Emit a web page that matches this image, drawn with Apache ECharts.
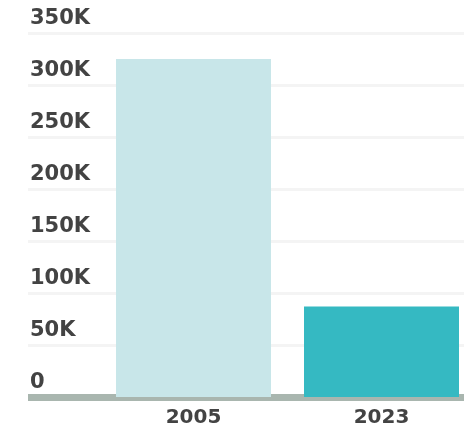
<!DOCTYPE html>
<html>
<head>
<meta charset="utf-8">
<script src="https://cdn.jsdelivr.net/npm/echarts@6/dist/echarts.min.js"></script>
<style>
html,body{margin:0;padding:0;background:#fff;}
#c{width:464px;height:430px;}
</style>
</head>
<body>
<div id="c"></div>
<script>
var categories = ['2005', '2023'];
var values = [325000, 87000];
var barColors = ['#c8e6e9', '#35b9c2'];
var yTickLabels = { 0: '0', 50000: '50K', 100000: '100K', 150000: '150K', 200000: '200K', 250000: '250K', 300000: '300K', 350000: '350K' };

var labelFont = { fontFamily: 'DejaVu Sans', fontWeight: 'bold', color: '#434343' };

var chart = echarts.init(document.getElementById('c'), null, { renderer: 'canvas' });
chart.setOption({
  animation: false,
  grid: [
    { left: 28, right: 0, top: 33, bottom: 33, outerBoundsMode: 'none', containLabel: false },
    { left: 99.5, width: 376, top: 33, bottom: 33, outerBoundsMode: 'none', containLabel: false }
  ],
  xAxis: [
    {
      gridIndex: 0, type: 'category', data: [''], offset: 3.5,
      axisLine: { show: true, lineStyle: { color: '#a9b6af', width: 7, cap: 'butt' } },
      axisTick: { show: false }, axisLabel: { show: false }, splitLine: { show: false }
    },
    {
      gridIndex: 1, type: 'category', data: categories,
      axisLine: { show: false }, axisTick: { show: false },
      axisLabel: Object.assign({ fontSize: 20, margin: 11 }, labelFont)
    }
  ],
  yAxis: [
    {
      gridIndex: 0, type: 'value', min: 0, max: 350000, interval: 50000,
      axisLine: { show: false }, axisTick: { show: false },
      axisLabel: Object.assign({
        inside: true, margin: 2, align: 'left', verticalAlign: 'bottom', fontSize: 21,
        padding: [0, 0, 4, 0],
        formatter: function (v) { return yTickLabels[v]; }
      }, labelFont),
      splitLine: { show: true, lineStyle: { color: '#f4f4f4', width: 3 } }
    },
    {
      gridIndex: 1, type: 'value', min: 0, max: 350000, interval: 50000, show: false,
      splitLine: { show: false }
    }
  ],
  series: [{
    type: 'bar', xAxisIndex: 1, yAxisIndex: 1, barWidth: 155,
    data: values.map(function (v, i) { return { value: v, itemStyle: { color: barColors[i] } }; })
  }]
});
</script>
</body>
</html>
